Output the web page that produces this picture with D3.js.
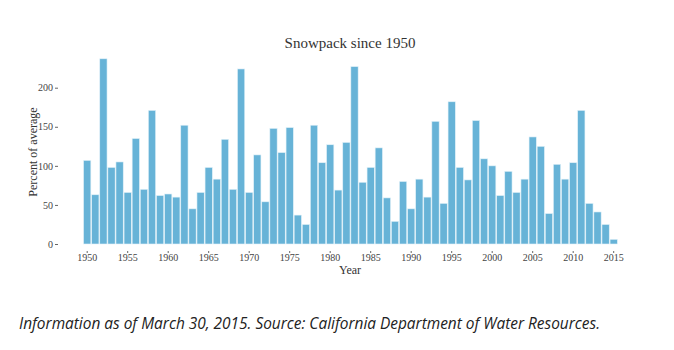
<!DOCTYPE html>
<html>
<head>
<meta charset="utf-8">
<script src="https://cdn.jsdelivr.net/npm/d3@7"></script>
<style>
  body { margin: 0; background: #fff; }
  svg { display: block; }
  .tick text { font-family: "Liberation Serif", "DejaVu Serif", serif; font-size: 10px; fill: #444; }
  .tick line { stroke: #666; }
</style>
</head>
<body>
<svg id="chart" width="674" height="350"></svg>
<script>
// Snowpack, percent of average, April 1
const years = d3.range(1950, 2016);
const values = [
  107, 63, 237, 98, 105, 66, 135, 70, 171, 62,
  64, 60, 152, 45, 66, 98, 83, 134, 70, 224,
  66, 114, 54, 148, 117, 149, 37, 25, 152, 104,
  127, 69, 130, 227, 79, 98, 123, 59, 29, 80,
  45, 83, 60, 157, 52, 182, 98, 82, 158, 109,
  100, 62, 93, 66, 83, 137, 125, 39, 102, 83,
  104, 171, 52, 41, 25, 6
];
const yTicks = [0, 50, 100, 150, 200];
const xTicks = d3.range(1950, 2016, 5);

const data = years.map((y, i) => ({year: y, value: values[i]}));

const svg = d3.select("#chart");
const serif = '"Liberation Serif", "DejaVu Serif", serif';

const x = d3.scaleBand()
  .domain(years)
  .range([83.15, 617.75])
  .paddingInner(0.1)
  .paddingOuter(0.05);

const y = d3.scaleLinear()
  .domain([0, 200])
  .range([244, 87.7]);

// bars
svg.append("g").selectAll("rect")
  .data(data)
  .join("rect")
    .attr("x", d => x(d.year))
    .attr("width", x.bandwidth())
    .attr("y", d => y(d.value))
    .attr("height", d => y(0) - y(d.value))
    .attr("fill", "#67b3d7")
    .attr("stroke", "#e3f2f9")
    .attr("stroke-width", 0.6);

// y axis, no domain line
const yAxis = svg.append("g")
  .attr("transform", "translate(58,0)")
  .call(d3.axisLeft(y).tickValues(yTicks).tickSize(3).tickPadding(2));
yAxis.select(".domain").remove();

// x axis: tiny ticks sitting above the labels
const xAxis = svg.append("g")
  .attr("transform", "translate(0,251)")
  .call(d3.axisBottom(x).tickValues(xTicks).tickSize(2).tickPadding(1));
xAxis.select(".domain").remove();

// titles
svg.append("text")
  .attr("x", 350).attr("y", 48)
  .attr("text-anchor", "middle")
  .style("font-family", serif)
  .style("font-size", "15px")
  .style("fill", "#333")
  .text("Snowpack since 1950");

svg.append("text")
  .attr("transform", "translate(37,152) rotate(-90)")
  .attr("text-anchor", "middle")
  .style("font-family", serif)
  .style("font-size", "12px")
  .style("fill", "#333")
  .text("Percent of average");

svg.append("text")
  .attr("x", 350).attr("y", 274)
  .attr("text-anchor", "middle")
  .style("font-family", serif)
  .style("font-size", "12px")
  .style("fill", "#333")
  .text("Year");

// caption below the chart
svg.append("text")
  .attr("x", 19).attr("y", 329)
  .attr("textLength", 581)
  .attr("lengthAdjust", "spacingAndGlyphs")
  .style("font-family", '"Open Sans", "Noto Sans", sans-serif')
  .style("font-style", "italic")
  .style("font-size", "16px")
  .style("fill", "#222")
  .text("Information as of March 30, 2015. Source: California Department of Water Resources.");
</script>
</body>
</html>
